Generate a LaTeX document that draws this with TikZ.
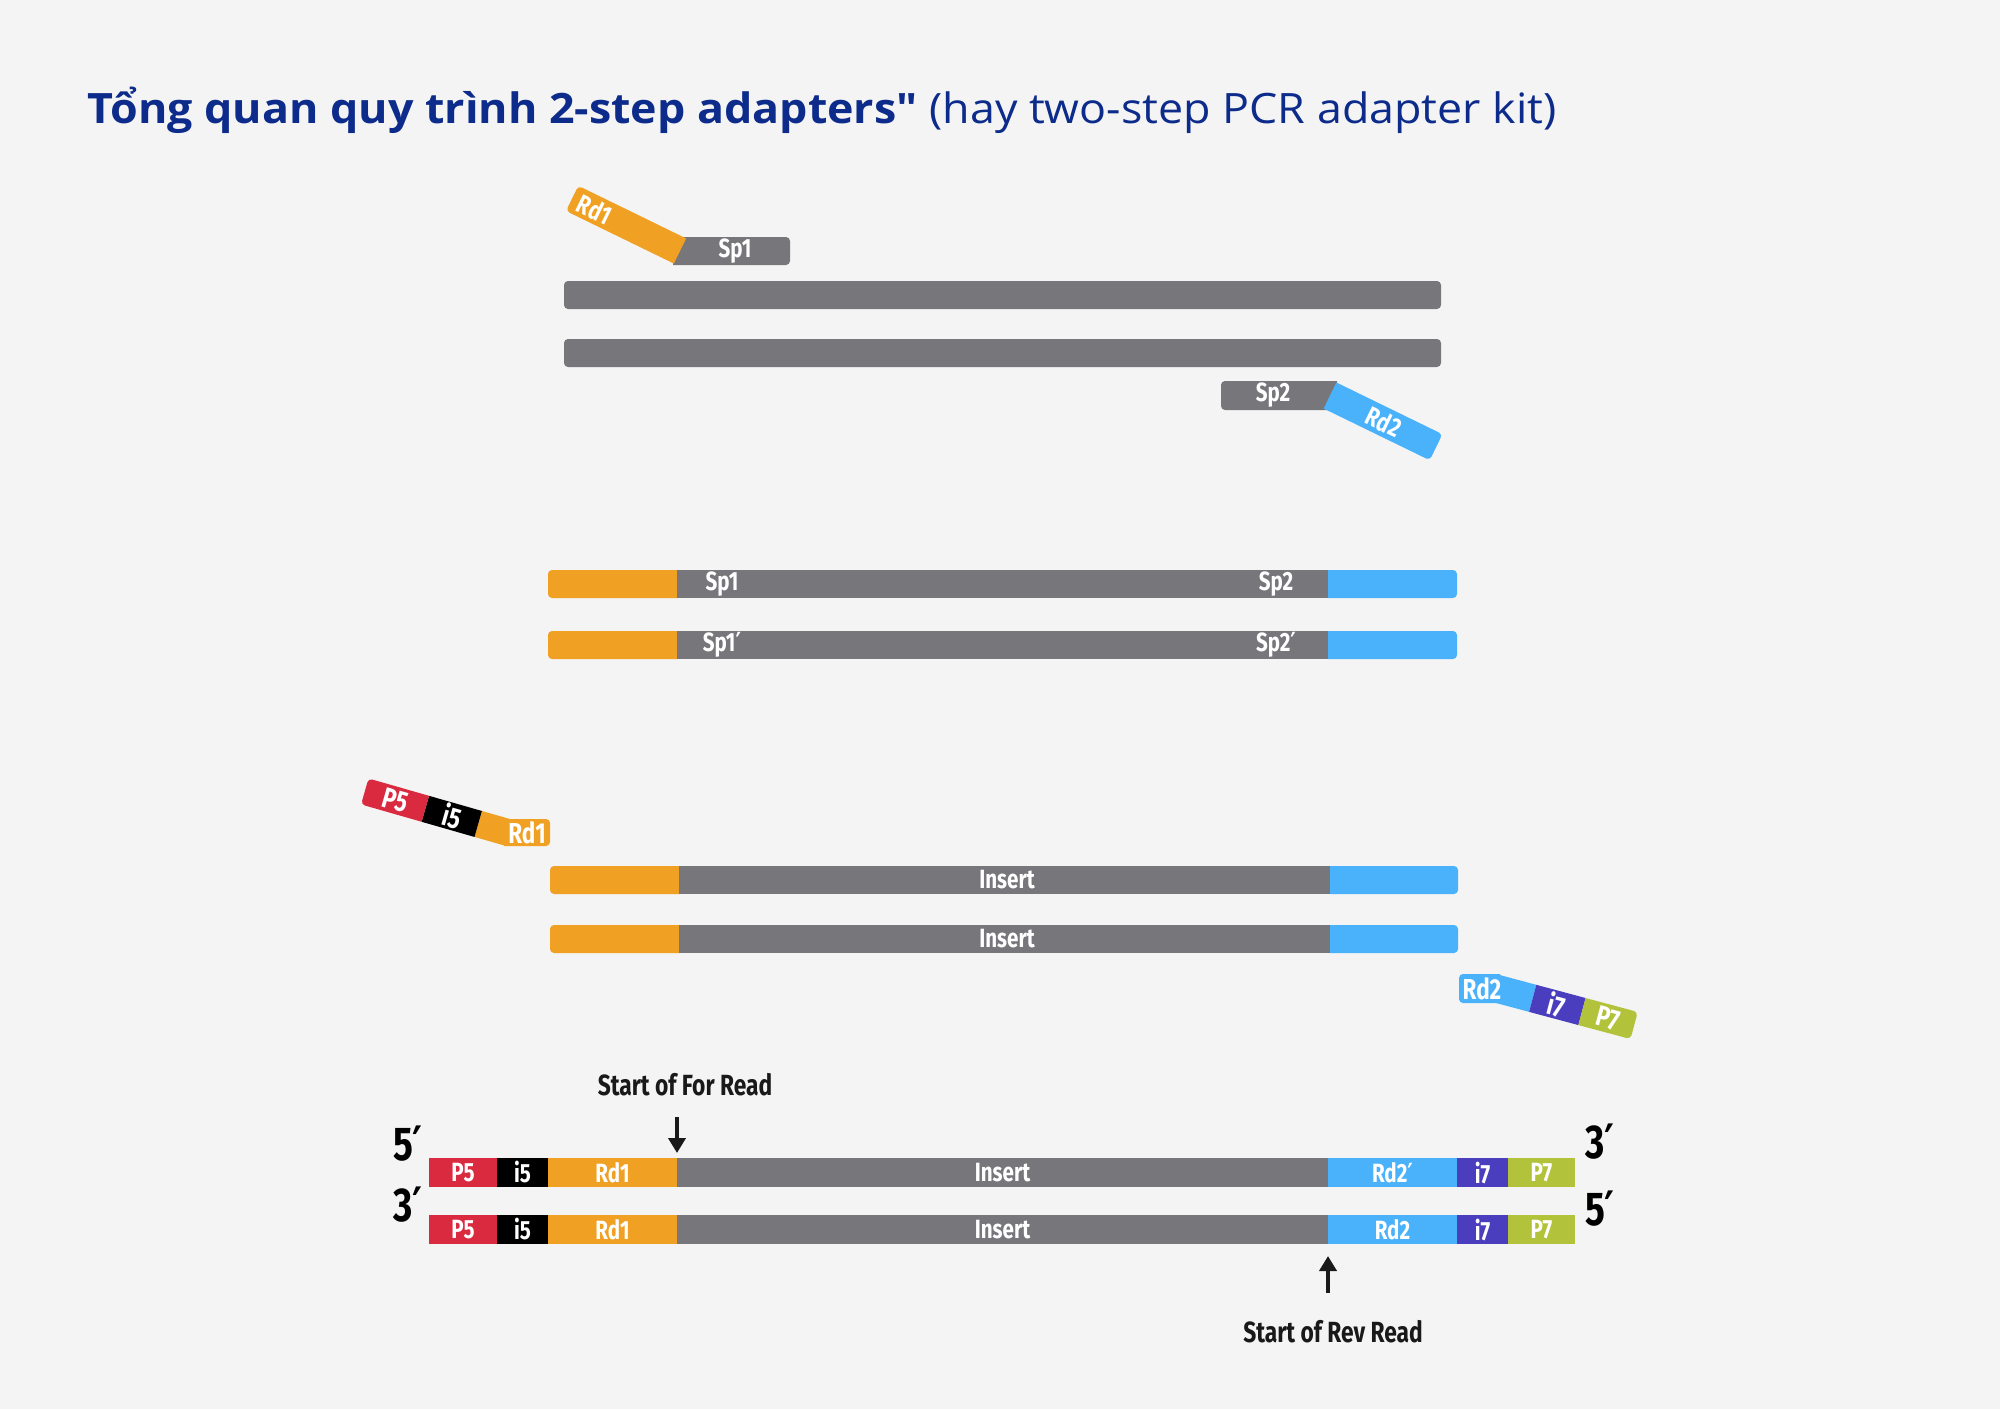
\documentclass[tikz,border=0pt]{standalone}
\usepackage{fontspec}
\setmainfont{Fira Sans}
\newfontfamily\narrowfont[FakeStretch=0.78]{Fira Sans}
\newfontfamily\primefont[FakeStretch=0.8]{DejaVu Sans}
\newfontfamily\titlefont[Ligatures=ResetAll, FakeStretch=1.07]{Open Sans}
\newcommand\primemark{{\primefont ′}}
\usetikzlibrary{arrows.meta}

\definecolor{paper}{HTML}{F4F4F4}
\definecolor{titleblue}{HTML}{0C2B8A}
\definecolor{strandgray}{HTML}{77767B}
\definecolor{rdorange}{HTML}{F0A023}
\definecolor{rdblue}{HTML}{4AB1FB}
\definecolor{pfivered}{HTML}{DA2A40}
\definecolor{iseven}{HTML}{4A3EBE}
\definecolor{psevengreen}{HTML}{B3C23B}

\tikzstyle{seglabel}=[font=\narrowfont\bfseries\fontsize{7.5pt}{9pt}\selectfont, text=white, inner sep=0pt]
\tikzstyle{adlabel}=[seglabel, font=\narrowfont\bfseries\fontsize{8.2pt}{10pt}\selectfont]
\tikzstyle{endlabel}=[font=\narrowfont\bfseries\fontsize{13.5pt}{15pt}\selectfont, text=black, inner sep=0pt]
\tikzstyle{readlabel}=[font=\narrowfont\bfseries\fontsize{8.3pt}{10pt}\selectfont, text=black!90, inner sep=0pt]
\tikzstyle{readarrow}=[draw=black!90, line width=0.45mm, -{Triangle[length=1.5mm,width=1.7mm]}]

\begin{document}
\begin{tikzpicture}[x=0.01cm, y=-0.01cm]
    \useasboundingbox (0,0) rectangle (2000,1409);
    \fill[paper] (0,0) rectangle (2000,1409);

    % Title
    \node[anchor=base west, text=titleblue, inner sep=0pt, font=\titlefont\fontsize{11.9pt}{15pt}\selectfont] (title) at (87,123)
        {\textbf{Tổng quan quy trình 2-step adapters"} (hay two-step PCR adapter kit)};

    % Step 1: double strand with the two primers
    \foreach \y/\name in {281/topone, 339/botone}
        \fill[strandgray, rounded corners=0.4mm] (564,\y) rectangle (1441,\y+28);

    \fill[strandgray] (673,237) {[rounded corners=0.4mm] -- (790,237) -- (790,265)} -- (673,265) -- cycle;
    \node[seglabel] (sponelab) at (735,251) {Sp1};
    \begin{scope}[shift={(680,251)}, rotate=-26]
        \fill[rdorange] (0,-14) {[rounded corners=0.4mm] -- (-120,-14) -- (-120,14)} -- (0,14) -- cycle;
        \node[seglabel, rotate=-26] (rdonelab) at (-95,0) {Rd1};
    \end{scope}

    \fill[strandgray] (1337,381) {[rounded corners=0.4mm] -- (1221,381) -- (1221,410)} -- (1337,410) -- cycle;
    \node[seglabel] (sptwolab) at (1273,395.5) {Sp2};
    \begin{scope}[shift={(1330,395.5)}, rotate=-26]
        \fill[rdblue] (0,-14.5) {[rounded corners=0.4mm] -- (118,-14.5) -- (118,14.5)} -- (0,14.5) -- cycle;
        \node[seglabel, rotate=-26] (rdtwolab) at (60,0) {Rd2};
    \end{scope}

    % Step 2: products of the first PCR
    \foreach \y/\la/\lb/\name in {570/Sp1/Sp2/a, 631/Sp1\primemark/Sp2\primemark/b}
    {
        \fill[rdorange] (677,\y) {[rounded corners=0.4mm] -- (548,\y) -- (548,\y+28)} -- (677,\y+28) -- cycle;
        \fill[strandgray] (677,\y) rectangle (1328,\y+28);
        \fill[rdblue] (1328,\y) {[rounded corners=0.4mm] -- (1457,\y) -- (1457,\y+28)} -- (1328,\y+28) -- cycle;
        \node[seglabel] (spone-\name) at (722,\y+14) {\la};
        \node[seglabel] (sptwo-\name) at (1276,\y+14) {\lb};
    }

    % Step 3: index primers
    \foreach \y/\name in {866/a, 925/b}
    {
        \fill[rdorange] (679,\y) {[rounded corners=0.4mm] -- (550,\y) -- (550,\y+28)} -- (679,\y+28) -- cycle;
        \fill[strandgray] (679,\y) rectangle (1330,\y+28);
        \fill[rdblue] (1330,\y) {[rounded corners=0.4mm] -- (1458,\y) -- (1458,\y+28)} -- (1330,\y+28) -- cycle;
        \node[seglabel] (insert-\name) at (1007,\y+14) {Insert};
    }

    \fill[rdorange] (504,819) {[rounded corners=0.4mm] -- (550,819) -- (550,846)} -- (504,846) -- cycle;
    \begin{scope}[shift={(508,832.5)}, rotate=-16]
        \fill[rdorange] (0,-13.5) rectangle (-31,13.5);
        \fill[black] (-31,-13.5) rectangle (-86,13.5);
        \fill[pfivered] (-86,-13.5) {[rounded corners=0.4mm] -- (-149,-13.5) -- (-149,13.5)} -- (-86,13.5) -- cycle;
        \node[adlabel, rotate=-16] (pfivelab) at (-117,0) {P5};
        \node[adlabel, rotate=-16] (ifivelab) at (-58,0) {i5};
    \end{scope}
    \node[adlabel] (rdoneadlab) at (527,832.5) {Rd1};

    \fill[rdblue] (1500,974) {[rounded corners=0.4mm] -- (1459,974) -- (1459,1003)} -- (1500,1003) -- cycle;
    \begin{scope}[shift={(1496,988.5)}, rotate=-15]
        \fill[rdblue] (0,-14) rectangle (38,14);
        \fill[iseven] (38,-14) rectangle (89,14);
        \fill[psevengreen] (89,-14) {[rounded corners=0.4mm] -- (143,-14) -- (143,14)} -- (89,14) -- cycle;
        \node[adlabel, rotate=-15] (isevenlab) at (63,0) {i7};
        \node[adlabel, rotate=-15] (psevenlab) at (116,0) {P7};
    \end{scope}
    \node[adlabel] (rdtwoadlab) at (1482,988.5) {Rd2};

    % Final library
    \foreach \y/\rdname/\row in {1158/Rd2\primemark/t, 1215/Rd2/b}
    {
        \foreach \xa/\xb/\col/\lab/\nm in {429/497/pfivered/P5/pfive, 497/548/black/i5/ifive,
                548/677/rdorange/Rd1/rdone, 677/1328/strandgray/Insert/insert,
                1328/1457/rdblue/\rdname/rdtwo, 1457/1508/iseven/i7/iseven, 1508/1575/psevengreen/P7/pseven}
        {
            \fill[\col] (\xa,\y) rectangle (\xb,\y+29);
            \node[seglabel] (\nm-\row) at ({(\xa+\xb)/2},\y+14.5) {\lab};
        }
    }

    \node[endlabel] (fivel) at (408,1144) {5\primemark};
    \node[endlabel] (threel) at (408,1205) {3\primemark};
    \node[endlabel] (threer) at (1600,1142) {3\primemark};
    \node[endlabel] (fiver) at (1600,1209) {5\primemark};

    % Read start arrows
    \node[readlabel] (forread) at (685,1085) {Start of For Read};
    \coordinate (fortail) at (677,1117);
    \coordinate (fortip) at (677,1153);
    \draw[readarrow] (fortail) -- (fortip);

    \node[readlabel] (revread) at (1333,1332) {Start of Rev Read};
    \coordinate (revtail) at (1328,1293);
    \coordinate (revtip) at (1328,1256);
    \draw[readarrow] (revtail) -- (revtip);
\end{tikzpicture}
\end{document}
